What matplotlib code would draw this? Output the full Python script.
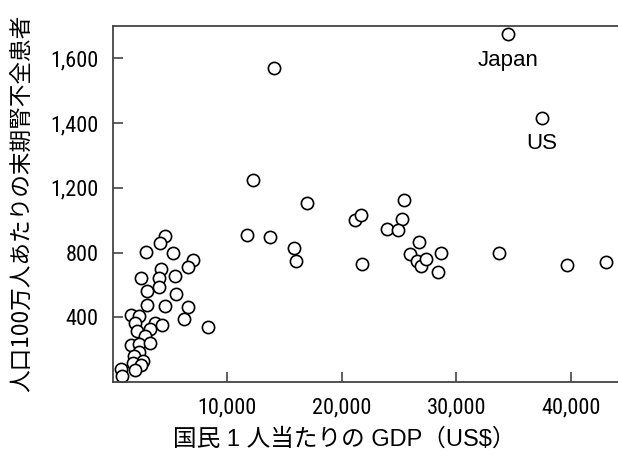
import numpy as np
import matplotlib
matplotlib.use("Agg")
import matplotlib.pyplot as plt
from matplotlib import font_manager as fm
from matplotlib.ticker import FuncFormatter, FixedLocator

# GDP per capita (US$)
gdp = [14110, 12270, 16990, 11770, 13780, 15820, 16050, 8336,
       4605, 4110, 2945, 5278, 7052, 6588, 4229, 2482, 4020, 5479,
       3006, 4054, 5540, 3032, 4544, 6554, 6204, 1608, 2333, 1957,
       3705, 4317, 2132, 3294, 2796, 1634, 2333, 3233, 2272, 1835,
       2656, 1774, 2508, 1984, 760, 822,
       21210, 21680, 21790, 25460, 25290, 24000, 24900, 26770, 25950,
       26540, 26950, 27410, 28640, 28400, 33730, 39640, 43080,
       34550, 37490]
# ESRD patients per million population
esrd = [1571, 1224, 1107, 908, 894, 830, 747, 342,
        904, 860, 801, 797, 755, 710, 696, 644, 644, 653,
        562, 585, 542, 474, 467, 463, 391, 412, 406, 362,
        366, 350, 317, 329, 286, 230, 235, 239, 185, 162,
        130, 119, 103, 74, 82, 39,
        999, 1031, 731, 1122, 1009, 943, 937, 863, 791,
        746, 718, 758, 797, 680, 795, 723, 739,
        1675, 1417]
labels = [("Japan", 34550, 1675), ("US", 37490, 1417)]

yticks = [400, 800, 1200, 1400, 1600]
xticks = [10000, 20000, 30000, 40000]

names = {f.name for f in fm.fontManager.ttflist}
num_font = "Liberation Sans"
for cand in ["Liberation Sans Narrow", "Arial Narrow", "Roboto Condensed",
             "Open Sans Condensed", "Noto Sans Condensed"]:
    if cand in names:
        num_font = cand
        break
jp_font = ["Noto Sans CJK JP", "DejaVu Sans"]

fig = plt.figure(figsize=(6.18, 4.59), dpi=100)
ax = fig.add_axes([112.5/618, 1-382/459, 1-112.5/618, (382-26)/459])

def fwd(y):
    y = np.asarray(y, dtype=float)
    return np.where(y <= 1200, y, 1200 + 2*(y - 1200))

def inv(t):
    t = np.asarray(t, dtype=float)
    return np.where(t <= 1200, t, 1200 + (t - 1200)/2)

ax.set_yscale("function", functions=(fwd, inv))

ax.plot(gdp, esrd, linestyle="none", marker="o", markersize=8.8,
        markerfacecolor="white", markeredgecolor="black", markeredgewidth=1.2)

for name, x, y in labels:
    ax.annotate(name, (x, y), xytext=(0, -19), textcoords="offset points",
                ha="center", va="center", fontsize=16, family="Liberation Sans")

ax.set_xlim(0, 44130)
ax.set_ylim(0, 1700)
ax.yaxis.set_major_locator(FixedLocator(yticks))
ax.xaxis.set_major_locator(FixedLocator(xticks))
ax.yaxis.set_minor_locator(FixedLocator([]))
fmt = FuncFormatter(lambda v, p: f"{int(round(v)):,}")
ax.yaxis.set_major_formatter(fmt)
ax.xaxis.set_major_formatter(fmt)

for s in ["left", "bottom", "top"]:
    ax.spines[s].set_color("#444444")
    ax.spines[s].set_linewidth(1.3)
ax.spines["right"].set_visible(False)

ax.tick_params(direction="in", length=7, width=1.2, color="#444444")
ax.tick_params(axis="y", pad=10)
ax.tick_params(axis="x", pad=11)
for lab in ax.get_xticklabels() + ax.get_yticklabels():
    lab.set_family(num_font)
    lab.set_fontsize(16 if num_font != "Liberation Sans" else 15)

fig.text(344/618, 1-440/459, "国民 1 人当たりの GDP（US$）", ha="center", va="center",
         fontsize=17, family=["Liberation Sans", "Noto Sans CJK JP"])
fig.text(22/618, 1-203/459, "人口100万人あたりの末期腎不全患者", ha="center", va="center",
         rotation=90, fontsize=16.3, family=jp_font)

fig.savefig("out.png", dpi=100)
